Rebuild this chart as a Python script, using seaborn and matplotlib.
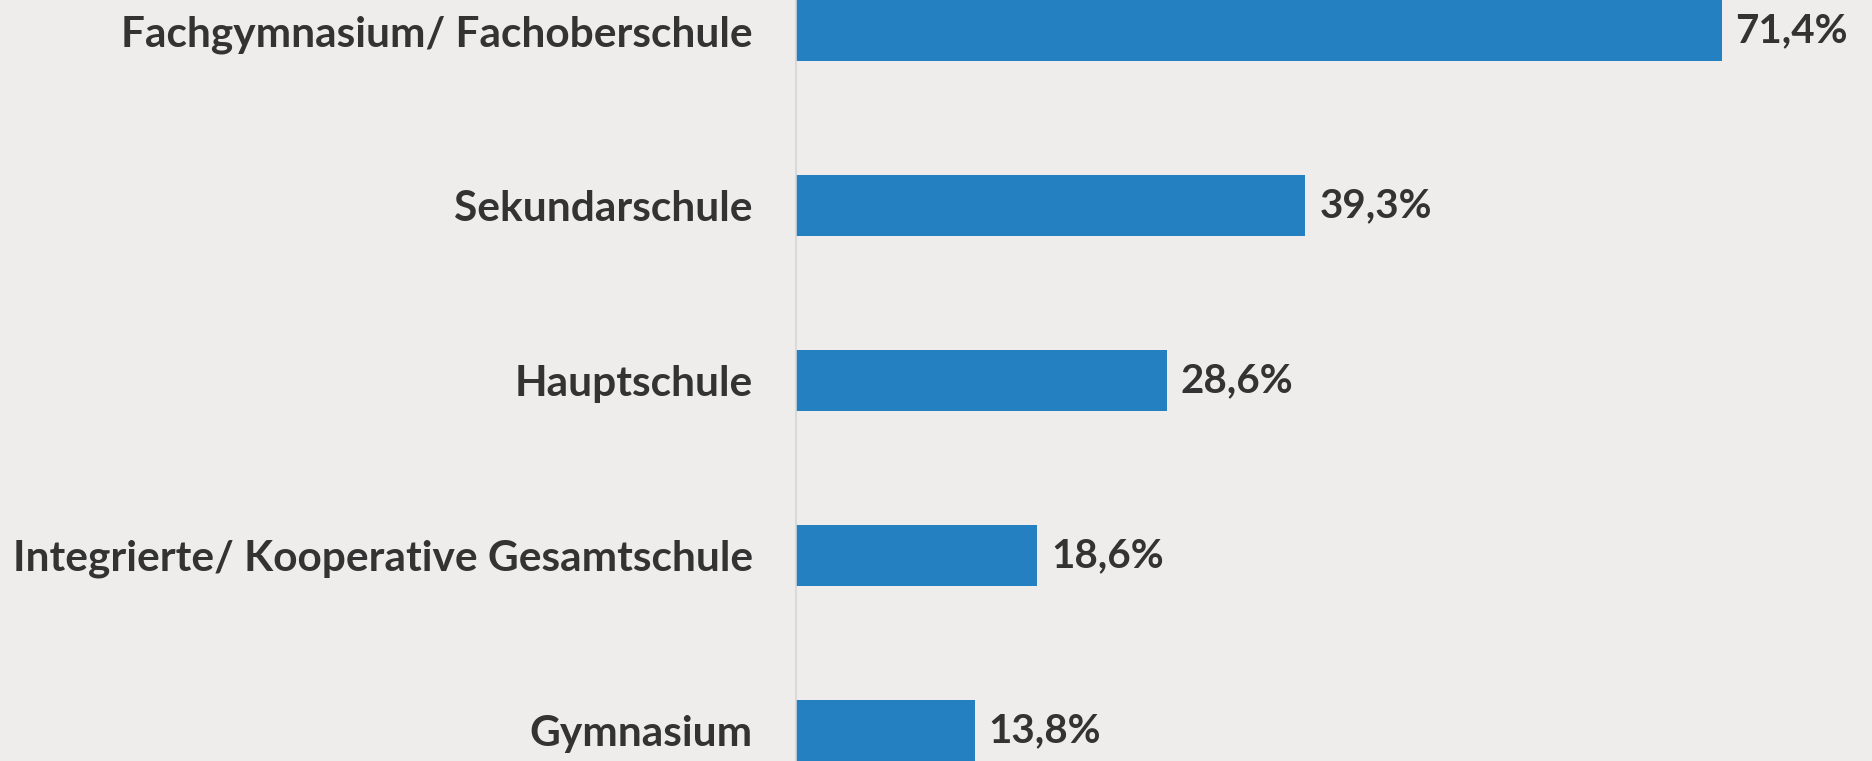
import pandas as pd
import matplotlib.pyplot as plt
import seaborn as sns

schools = [
    "Fachgymnasium/ Fachoberschule",
    "Sekundarschule",
    "Hauptschule",
    "Integrierte/ Kooperative Gesamtschule",
    "Gymnasium",
]
shares = [71.4, 39.3, 28.6, 18.6, 13.8]

df = pd.DataFrame({"schule": schools, "anteil": shares})

sns.set_theme(style="white")
plt.rcParams["font.family"] = ["Lato", "DejaVu Sans"]

bg = "#eeedeb"
fig = plt.figure(figsize=(18.72, 7.61), dpi=100, facecolor=bg)
ax = fig.add_axes([796 / 1872, 0, 1 - 796 / 1872, 1], facecolor=bg)

sns.barplot(data=df, x="anteil", y="schule", orient="h", color="#2480c0",
            saturation=1, width=0.35, linewidth=0, ax=ax)

# value labels with German decimal comma
for cont in ax.containers:
    ax.bar_label(cont, labels=[f"{v:.1f}%".replace(".", ",") for v in shares],
                 padding=10, fontsize=29, fontweight="bold", color="#333333")

ax.set_xlim(0, 83)
ax.set_ylim(4.175, -0.175)
ax.set_xlabel("")
ax.set_ylabel("")
ax.set_xticks([])
ax.tick_params(axis="y", length=0, pad=31, labelsize=30.5, labelcolor="#333333")
for lab in ax.get_yticklabels():
    lab.set_fontweight("bold")

for side in ["top", "right", "bottom"]:
    ax.spines[side].set_visible(False)
ax.spines["left"].set_color("#d6d6d6")
ax.spines["left"].set_linewidth(1.2)

fig.savefig("out.png", dpi=100, facecolor=bg)
